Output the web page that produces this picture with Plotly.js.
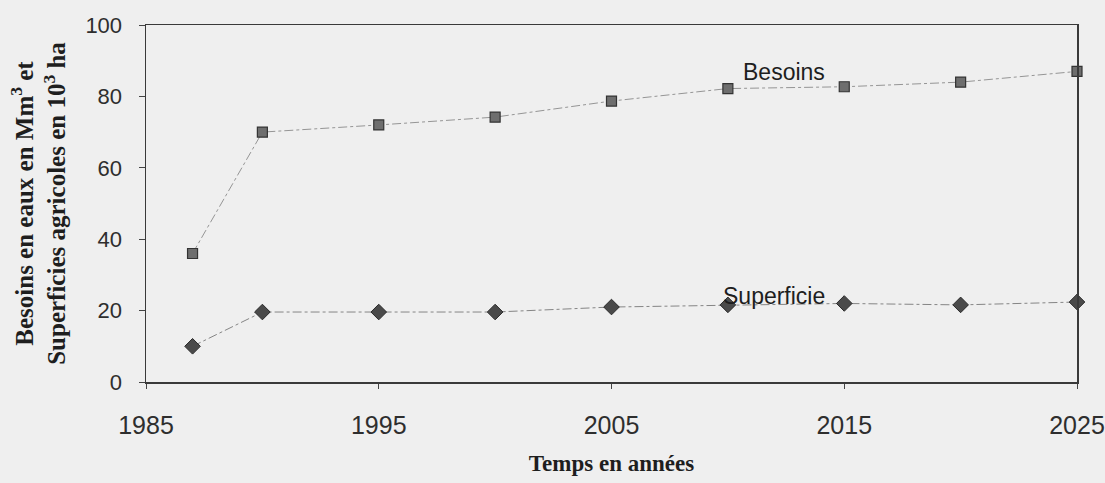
<!DOCTYPE html>
<html>
<head>
<meta charset="utf-8">
<script src="https://cdn.plot.ly/plotly-3.0.1.min.js"></script>
<style>
  html, body { margin: 0; padding: 0; background: #efefef; }
  #chart { width: 1105px; height: 483px; }
</style>
</head>
<body>
<div id="chart"></div>
<script>
// Years of the observations / projections
const years = [1987, 1990, 1995, 2000, 2005, 2010, 2015, 2020, 2025];
// Besoins en eaux (Mm3)
const besoins = [36, 70, 72, 74.2, 78.7, 82.2, 82.7, 84, 87];
// Superficies agricoles (10^3 ha)
const superficie = [10, 19.6, 19.6, 19.6, 21, 21.6, 22, 21.6, 22.4];
// Axis ticks
const xTicks = [1985, 1995, 2005, 2015, 2025];
const yTicks = [0, 20, 40, 60, 80, 100];
const seriesNames = ["Besoins", "Superficie"];

const traces = [
  {
    x: years, y: besoins, name: seriesNames[0],
    type: "scatter", mode: "lines+markers", cliponaxis: false,
    line: { color: "#959595", width: 1, dash: "dashdot" },
    marker: { symbol: "square", size: 10, color: "#6e6e6e", line: { color: "#333333", width: 1.2 } }
  },
  {
    x: years, y: superficie, name: seriesNames[1],
    type: "scatter", mode: "lines+markers", cliponaxis: false,
    line: { color: "#858585", width: 1, dash: "dashdot" },
    marker: { symbol: "diamond", size: 12, color: "#4a4a4a", line: { color: "#2a2a2a", width: 1 } }
  }
];

const layout = {
  width: 1105, height: 483,
  margin: { l: 146, r: 28, t: 25, b: 101 },
  paper_bgcolor: "#efefef",
  plot_bgcolor: "#efefef",
  showlegend: false,
  font: { family: "Liberation Sans, Arial, sans-serif", color: "#2e2e2e" },
  xaxis: {
    range: [1985, 2025],
    tickvals: xTicks,
    ticktext: xTicks.map(String),
    ticks: "outside", ticklen: 5, tickcolor: "#444",
    ticklabelstandoff: 15,
    tickfont: { size: 25, color: "#2e2e2e" },
    showgrid: false, zeroline: false,
    showline: true, mirror: true, linecolor: "#3a3a3a", linewidth: 1.5,
    title: {
      text: "<b>Temps en années</b>",
      font: { family: "Liberation Serif, Times New Roman, serif", size: 23, color: "#1e1e1e" },
      standoff: 17
    }
  },
  yaxis: {
    range: [0, 100],
    tickvals: yTicks,
    ticks: "outside", ticklen: 6, tickcolor: "#444",
    ticklabelstandoff: 12,
    tickfont: { size: 22, color: "#2e2e2e" },
    showgrid: false, zeroline: false,
    showline: true, mirror: true, linecolor: "#3a3a3a", linewidth: 1.5,
    title: {
      text: "<b>Besoins en eaux en Mm<sup>3</sup> et<br>Superficies agricoles en 10<sup>3</sup> ha</b>",
      font: { family: "Liberation Serif, Times New Roman, serif", size: 25, color: "#1e1e1e" },
      standoff: 12
    }
  },
  annotations: [
    { x: 2012.4, y: 86.8, xref: "x", yref: "y", text: seriesNames[0], showarrow: false,
      font: { size: 23, color: "#1e1e1e" }, xanchor: "center", yanchor: "middle" },
    { x: 2012.0, y: 24.0, xref: "x", yref: "y", text: seriesNames[1], showarrow: false,
      font: { size: 23, color: "#1e1e1e" }, xanchor: "center", yanchor: "middle" }
  ]
};

Plotly.newPlot("chart", traces, layout, { displayModeBar: false, staticPlot: true });
</script>
</body>
</html>
